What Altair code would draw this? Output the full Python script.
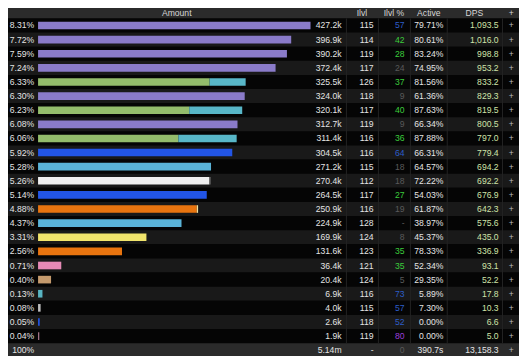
import altair as alt
import pandas as pd

# ---------------- data ----------------
pct_labels = ["8.31%", "7.72%", "7.59%", "7.24%", "6.33%", "6.30%", "6.23%", "6.08%",
              "6.06%", "5.92%", "5.28%", "5.26%", "5.14%", "4.88%", "4.37%", "3.31%",
              "2.56%", "0.71%", "0.40%", "0.13%", "0.08%", "0.05%", "0.04%"]
amount_k = [427.2, 396.9, 390.2, 372.4, 325.5, 324.0, 320.1, 312.7, 311.4, 304.5, 271.2,
            270.4, 264.5, 250.9, 224.9, 169.9, 131.6, 36.4, 20.4, 6.9, 4.0, 2.6, 1.9]
amount_labels = ["427.2k", "396.9k", "390.2k", "372.4k", "325.5k", "324.0k", "320.1k",
                 "312.7k", "311.4k", "304.5k", "271.2k", "270.4k", "264.5k", "250.9k",
                 "224.9k", "169.9k", "131.6k", "36.4k", "20.4k", "6.9k", "4.0k", "2.6k", "1.9k"]
# secondary segment (pet / extra) of each bar, in k
extra_k = [0, 0, 0, 0, 56.5, 0, 83.1, 0, 91.4, 0, 0, 2.0, 0, 2.0, 0, 0, 0, 0, 0, 0, 0, 0, 0]
main_colors = ["#8a7bc9", "#8a7bc9", "#8a7bc9", "#8a7bc9", "#94bd6c", "#8a7bc9", "#94bd6c",
               "#8a7bc9", "#94bd6c", "#2255e6", "#5ab3d8", "#f0f0f0", "#2255e6", "#e8740f",
               "#5ab3d8", "#f1e56c", "#e8740f", "#e68ab6", "#c49a6d", "#58b4c2", "#bdbdbd",
               "#2255e6", "#a8788c"]
extra_colors = ["#000000", "#000000", "#000000", "#000000", "#58b7c8", "#000000", "#58b7c8",
                "#000000", "#58b7c8", "#000000", "#000000", "#7a7a7a", "#000000", "#efe0a0",
                "#000000", "#000000", "#000000", "#000000", "#000000", "#000000", "#000000",
                "#000000", "#000000"]
ilvl = ["115", "114", "119", "117", "126", "118", "117", "119", "116", "116", "115", "112",
        "117", "116", "128", "124", "123", "121", "124", "116", "115", "118", "119"]
ilvl_pct = ["57", "42", "28", "24", "37", "9", "40", "9", "36", "64", "18", "18", "27", "19",
            "-", "8", "35", "35", "5", "73", "57", "52", "80"]
active = ["79.71%", "80.61%", "83.24%", "74.95%", "81.56%", "61.36%", "87.63%", "66.34%",
          "87.88%", "66.31%", "64.57%", "72.22%", "54.03%", "61.87%", "38.97%", "45.37%",
          "78.33%", "52.34%", "29.35%", "5.89%", "7.30%", "0.00%", "0.00%"]
dps = ["1,093.5", "1,016.0", "998.8", "953.2", "833.2", "829.3", "819.5", "800.5", "797.0",
       "779.4", "694.2", "692.2", "676.9", "642.3", "575.6", "435.0", "336.9", "93.1", "52.2",
       "17.8", "10.3", "6.6", "5.0"]

headers = ["Amount", "Ilvl", "Ilvl %", "Active", "DPS", "+"]
footer = {"pct": "100%", "amount": "5.14m", "ilvl": "-", "ilvl_pct": "0",
          "active": "390.7s", "dps": "13,158.3"}

# ---------------- layout ----------------
W, H = 511, 348
S = W / 527.0
FONT = "Liberation Sans"
FS = 8.6
N = len(pct_labels)

def px(x):
    return x * S

yscale = alt.Scale(domain=[-1.239, 23.41], range=[0, H], nice=False, zero=False)

def ip_color(v):
    if v == "-":
        return "#5a5a5a"
    n = int(v)
    if n < 25:
        return "#5a5a5a"
    if n < 50:
        return "#3ccc3c"
    if n < 75:
        return "#2d5ec8"
    return "#9a3fdc"

# row backgrounds
bg_rows = []
for i in range(-1, N + 1):
    if i == -1 or i == N:
        c = "#2b2b2b"
    elif i % 2 == 0:
        c = "#050505"
    else:
        c = "#191919"
    bg_rows.append({"y0": i - 0.5, "y1": i + 0.5, "bg": c})
bg_df = pd.DataFrame(bg_rows)

bg = alt.Chart(bg_df).mark_rect().encode(
    x=alt.value(0), x2=alt.value(W),
    y=alt.Y("y0:Q", scale=yscale, axis=None), y2="y1:Q",
    color=alt.Color("bg:N", scale=None),
)

# column separators
sep_layers = []
for sx in [349, 382, 415, 453, 510]:
    sep_layers.append(
        alt.Chart(pd.DataFrame({"a": [0]})).mark_rule(color="#232323", strokeWidth=1).encode(
            x=alt.value(px(sx)), y=alt.value(11 * H / 364), y2=alt.value(H - 13 * H / 364)
        )
    )

# bars
bar_rows = []
for i in range(N):
    main = amount_k[i] - extra_k[i]
    bar_rows.append({"row": i, "b0": 0.0, "b1": main, "c": main_colors[i],
                     "t": i - 0.27, "bt": i + 0.27})
    if extra_k[i] > 0:
        bar_rows.append({"row": i, "b0": main, "b1": amount_k[i], "c": extra_colors[i],
                         "t": i - 0.27, "bt": i + 0.27})
bar_df = pd.DataFrame(bar_rows)

bars = alt.Chart(bar_df).mark_rect().encode(
    x=alt.X("b0:Q", scale=alt.Scale(domain=[0, 427.2], range=[px(31), px(312)], nice=False, zero=False), axis=None),
    x2="b1:Q",
    y=alt.Y("t:Q", scale=yscale, axis=None), y2="bt:Q",
    color=alt.Color("c:N", scale=None),
)

# table text
rows = list(range(N)) + [N]
tbl = pd.DataFrame({
    "row": rows,
    "pct": pct_labels + [footer["pct"]],
    "amount": amount_labels + [footer["amount"]],
    "ilvl": ilvl + [footer["ilvl"]],
    "ilvl_pct": ilvl_pct + [footer["ilvl_pct"]],
    "ipc": [ip_color(v) for v in ilvl_pct] + ["#5a5a5a"],
    "active": active + [footer["active"]],
    "dps": dps + [footer["dps"]],
    "dpsc": ["#cfe3a8"] * N + ["#e6e6e6"],
    "plus": ["+"] * (N + 1),
})

def col_text(field, xpos, align="right", color="#e4e4e4", color_field=None):
    enc = dict(
        x=alt.value(px(xpos)),
        y=alt.Y("row:Q", scale=yscale, axis=None),
        text=alt.Text(field + ":N"),
    )
    if color_field:
        enc["color"] = alt.Color(color_field + ":N", scale=None)
    mk = alt.Chart(tbl).mark_text(align=align, baseline="middle", font=FONT, fontSize=FS,
                                  color=color)
    return mk.encode(**enc)

texts = [
    col_text("pct", 27),
    col_text("amount", 344),
    col_text("ilvl", 377),
    col_text("ilvl_pct", 409, color_field="ipc"),
    col_text("active", 449),
    col_text("dps", 506, color_field="dpsc"),
    col_text("plus", 519, align="center", color="#bbbbbb"),
]

hdr_df = pd.DataFrame({"h": headers, "row": [-1] * len(headers),
                       "hx": [px(v) for v in [174, 365, 398, 434, 481, 519]]})
hdr = alt.Chart(hdr_df).mark_text(align="center", baseline="middle", font=FONT, fontSize=FS,
                                  color="#d6d6d6", dy=2).encode(
    x=alt.X("hx:Q", scale=alt.Scale(domain=[0, W], range=[0, W], nice=False, zero=False), axis=None),
    y=alt.Y("row:Q", scale=yscale, axis=None),
    text="h:N",
)

chart = alt.layer(bg, *sep_layers, bars, *texts, hdr).resolve_scale(x="independent").properties(
    width=W, height=H, padding=0, autosize=alt.AutoSizeParams(type="none"),
    background="#050505",
).configure_view(stroke=None)

chart.save("out.html", embed_options={"renderer": "svg", "actions": False})
